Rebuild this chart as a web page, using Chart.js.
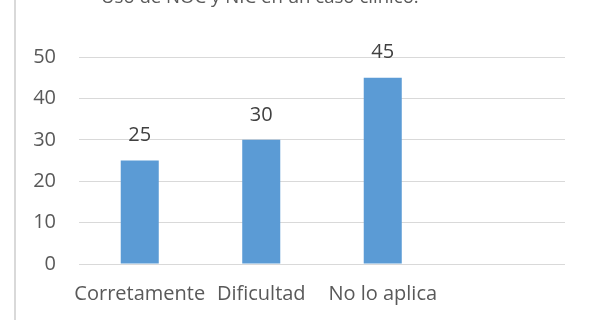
<!DOCTYPE html>
<html>
<head>
<meta charset="utf-8">
<script src="https://cdn.jsdelivr.net/npm/chart.js@4.4.1/dist/chart.umd.min.js"></script>
<style>
  html, body { margin: 0; padding: 0; background: #fff; }
  #wrap { position: relative; width: 593px; height: 320px; overflow: hidden; }
  #edge { position: absolute; left: 14px; top: 0; width: 1.5px; height: 320px; background: #d9d9d9; }
  canvas { position: absolute; left: 0; top: 0; }
</style>
</head>
<body>
<div id="wrap">
  <canvas id="c" width="593" height="320"></canvas>
  <div id="edge"></div>
</div>
<script>
const titleText = "Uso de NOC y NIC en un caso clínico.";
const categories = ["Corretamente", "Dificultad", "No lo aplica", ""];
const values = [25, 30, 45, null];
const yTicks = [0, 10, 20, 30, 40, 50];

const FONT = "'Open Sans', sans-serif";

const topTitle = {
  id: 'topTitle',
  afterDraw(chart) {
    const ctx = chart.ctx;
    ctx.save();
    ctx.font = "18.6px " + FONT;
    ctx.fillStyle = "#595959";
    ctx.textAlign = "left";
    ctx.textBaseline = "alphabetic";
    ctx.fillText(titleText, 101, 3);
    ctx.restore();
  }
};

const valueLabels = {
  id: 'valueLabels',
  afterDatasetsDraw(chart) {
    const ctx = chart.ctx;
    const meta = chart.getDatasetMeta(0);
    ctx.save();
    ctx.font = "20px " + FONT;
    ctx.fillStyle = "#404040";
    ctx.textAlign = "center";
    ctx.textBaseline = "middle";
    meta.data.forEach((bar, i) => {
      const v = chart.data.datasets[0].data[i];
      if (v === null || v === undefined) return;
      ctx.fillText(String(v), bar.x, bar.y - 25);
    });
    ctx.restore();
  }
};

new Chart(document.getElementById('c'), {
  type: 'bar',
  data: {
    labels: categories,
    datasets: [{
      data: values,
      backgroundColor: '#5b9bd5',
      borderWidth: 0,
      categoryPercentage: 1,
      barPercentage: 0.313
    }]
  },
  options: {
    responsive: false,
    animation: false,
    layout: { padding: { top: 57, right: 28, bottom: 0, left: 0 } },
    plugins: { legend: { display: false }, title: { display: false }, tooltip: { enabled: false } },
    scales: {
      x: {
        grid: { display: false, drawTicks: false },
        border: { display: false },
        ticks: { color: '#595959', font: { family: FONT, size: 20 }, padding: 18, maxRotation: 0, autoSkip: false },
        afterFit(scale) { scale.height = 56; }
      },
      y: {
        min: 0, max: 50,
        afterBuildTicks(scale) { scale.ticks = yTicks.map(v => ({ value: v })); },
        grid: { color: '#d9d9d9', lineWidth: 1, drawTicks: false },
        border: { display: false },
        ticks: { color: '#595959', font: { family: FONT, size: 20 }, padding: 23 },
        afterFit(scale) { scale.width = 79; }
      }
    }
  },
  plugins: [topTitle, valueLabels]
});
</script>
</body>
</html>
